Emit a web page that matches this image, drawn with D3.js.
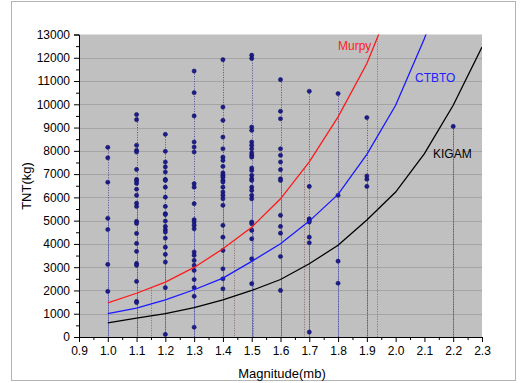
<!DOCTYPE html>
<html>
<head>
<meta charset="utf-8">
<script src="https://cdn.jsdelivr.net/npm/d3@7"></script>
<style>
  body { margin: 0; background: #fff; }
  svg { display: block; font-family: "Liberation Sans", Arial, sans-serif; }
</style>
</head>
<body>
<svg id="chart" width="526" height="383"></svg>
<script>
const magnitudes = [1.0, 1.1, 1.2, 1.3, 1.4, 1.5, 1.6, 1.7, 1.8, 1.9, 2.2];
const tntValues = [
  [8150, 7700, 6650, 5100, 4620, 3120, 1960],
  [9560, 9340, 8240, 8020, 7950, 7200, 6770, 6700, 6600, 6350, 6090, 5750, 5610, 4970, 4880, 4450, 4020, 3680, 3160, 3080, 2390, 1530, 1480],
  [8710, 7980, 7520, 7310, 7090, 6770, 6730, 6440, 6010, 5610, 5300, 5260, 4980, 4750, 4610, 4510, 4250, 3860, 3550, 3220, 2120, 110],
  [11430, 10500, 9500, 8380, 8160, 7950, 6590, 6440, 5730, 5040, 4940, 4800, 4650, 3650, 3510, 3290, 3080, 2860, 2470, 2120, 1750, 420],
  [11920, 9880, 9310, 8590, 8090, 7730, 7590, 7330, 7050, 6950, 6870, 6730, 6660, 6440, 6230, 6090, 5940, 5660, 4800, 4290, 3720, 2930, 2500, 2070],
  [12110, 11970, 9020, 8880, 8380, 8240, 8090, 7910, 7810, 7730, 7260, 7160, 6950, 6800, 6730, 6440, 6300, 6090, 5940, 4940, 4870, 4580, 4220, 3360, 2290],
  [11060, 9700, 9380, 8090, 7810, 7520, 7190, 6800, 6730, 5230, 4750, 4460, 3460, 2000],
  [10560, 6470, 5080, 5010, 4940, 4290, 4050, 210],
  [10460, 6090, 3260, 2310],
  [9430, 6920, 6780, 6470],
  [9050]
];

// empirical curves
const curveMag = [1.0, 1.1, 1.2, 1.3, 1.4, 1.5, 1.6, 1.7, 1.8, 1.9, 2.0, 2.1, 2.2, 2.3];
const murpy = [1470, 1880, 2360, 2990, 3790, 4720, 5940, 7530, 9460, 11750, 14800, 18600, 23400, 29500];
const ctbto = [1000, 1240, 1600, 2030, 2530, 3250, 4010, 4980, 6130, 7850, 9960, 12830, 16200, 20400];
const kigam = [610, 810, 1000, 1260, 1600, 2000, 2470, 3150, 3940, 5030, 6230, 7880, 9960, 12460];

// extra drop lines under the Murpy curve
const murpyDropMag = [1.15, 1.44, 1.505, 1.68, 1.8, 1.935];

const xTicks = [0.9, 1.0, 1.1, 1.2, 1.3, 1.4, 1.5, 1.6, 1.7, 1.8, 1.9, 2.0, 2.1, 2.2, 2.3];
const yTicks = [0, 1000, 2000, 3000, 4000, 5000, 6000, 7000, 8000, 9000, 10000, 11000, 12000, 13000];

const pLeft = 79, pRight = 482, pTop = 34.5, pBottom = 337;

const svg = d3.select('#chart');

// outer frame
svg.append('rect')
  .attr('x', 11.5).attr('y', 1.5)
  .attr('width', 504).attr('height', 379)
  .attr('fill', '#fff')
  .attr('stroke', '#b4b4b4')
  .attr('stroke-width', 1);

const x = d3.scaleLinear().domain([0.9, 2.3]).range([pLeft, pRight]);
const y = d3.scaleLinear().domain([0, 13000]).range([pBottom, pTop]);

svg.append('defs').append('clipPath').attr('id', 'plotclip')
  .append('rect')
  .attr('x', pLeft).attr('y', pTop)
  .attr('width', pRight - pLeft).attr('height', pBottom - pTop);

// plot background
svg.append('rect')
  .attr('x', pLeft).attr('y', pTop)
  .attr('width', pRight - pLeft).attr('height', pBottom - pTop)
  .attr('fill', '#c0c0c0');

// horizontal grid
svg.append('g')
  .selectAll('line')
  .data(yTicks.filter(d => d > 0 && d < 13000))
  .enter().append('line')
  .attr('x1', pLeft).attr('x2', pRight)
  .attr('y1', d => Math.round(y(d)) + 0.5)
  .attr('y2', d => Math.round(y(d)) + 0.5)
  .attr('stroke', '#a4a4a4')
  .attr('stroke-width', 1);

const plot = svg.append('g').attr('clip-path', 'url(#plotclip)');

// drop lines from the Murpy curve
const murpyAt = d3.scaleLinear().domain(curveMag).range(murpy);
plot.append('g')
  .selectAll('line')
  .data(murpyDropMag)
  .enter().append('line')
  .attr('x1', d => Math.round(x(d)) + 0.5)
  .attr('x2', d => Math.round(x(d)) + 0.5)
  .attr('y1', d => y(murpyAt(d)))
  .attr('y2', pBottom)
  .attr('stroke', '#8a6a6a')
  .attr('stroke-width', 1)
  .attr('stroke-dasharray', '1,1.5');

// column lines + drop lines for the events
const columns = plot.append('g')
  .selectAll('g')
  .data(magnitudes.map((m, i) => ({ mag: m, values: tntValues[i] })))
  .enter().append('g');

columns.append('line')
  .attr('x1', d => Math.round(x(d.mag)) + 0.5)
  .attr('x2', d => Math.round(x(d.mag)) + 0.5)
  .attr('y1', d => y(d3.median(d.values)))
  .attr('y2', pBottom)
  .attr('stroke', '#8c8cc0')
  .attr('stroke-width', 1);

columns.append('line')
  .attr('x1', d => Math.round(x(d.mag)) + 0.5)
  .attr('x2', d => Math.round(x(d.mag)) + 0.5)
  .attr('y1', d => y(d3.max(d.values)))
  .attr('y2', pBottom)
  .attr('stroke', '#505098')
  .attr('stroke-width', 1)
  .attr('stroke-dasharray', '1,1.5');

// curves
const line = d3.line()
  .x(d => x(d[0]))
  .y(d => y(d[1]));

[[murpy, '#ff1a1a'], [ctbto, '#1a1aff'], [kigam, '#000000']].forEach(([vals, color]) => {
  plot.append('path')
    .datum(curveMag.map((m, i) => [m, vals[i]]))
    .attr('d', line)
    .attr('fill', 'none')
    .attr('stroke', color)
    .attr('stroke-width', 1.3);
});

// event points
columns.selectAll('circle')
  .data(d => d.values.map(v => [d.mag, v]))
  .enter().append('circle')
  .attr('cx', d => x(d[0]))
  .attr('cy', d => y(d[1]))
  .attr('r', 2.1)
  .attr('fill', '#1c1c8c')
  .attr('stroke', '#0a0a5a')
  .attr('stroke-width', 0.5);

// curve labels
svg.append('text').attr('x', 338).attr('y', 50)
  .attr('font-size', 12).attr('fill', '#ff2020').text('Murpy');
svg.append('text').attr('x', 415).attr('y', 82)
  .attr('font-size', 12).attr('fill', '#2020ff').text('CTBTO');
svg.append('text').attr('x', 433).attr('y', 158)
  .attr('font-size', 12).attr('fill', '#000').text('KIGAM');

// axes
const xMinor = d3.range(0, 29).map(i => 0.9 + i * 0.05).filter((d, i) => i % 2 === 1);
const yMinor = d3.range(0, 26).map(i => 500 + i * 1000).filter(d => d < 13000);

svg.append('g')
  .attr('transform', 'translate(0,' + pBottom + ')')
  .call(d3.axisBottom(x).tickValues(xTicks).tickFormat(d3.format('.1f')).tickSize(5).tickPadding(4));
svg.append('g')
  .attr('transform', 'translate(0,' + pBottom + ')')
  .call(d3.axisBottom(x).tickValues(xMinor).tickFormat('').tickSize(3))
  .select('.domain').remove();

svg.append('g')
  .attr('transform', 'translate(' + pLeft + ',0)')
  .call(d3.axisLeft(y).tickValues(yTicks).tickFormat(d3.format('d')).tickSize(5).tickPadding(4));
svg.append('g')
  .attr('transform', 'translate(' + pLeft + ',0)')
  .call(d3.axisLeft(y).tickValues(yMinor).tickFormat('').tickSize(3))
  .select('.domain').remove();

svg.selectAll('.tick text')
  .attr('font-size', 12)
  .attr('font-family', '"Liberation Sans", Arial, sans-serif')
  .attr('fill', '#000');
svg.selectAll('.domain').attr('stroke', '#000');
svg.selectAll('.tick line').attr('stroke', '#000');

// axis titles
svg.append('text')
  .attr('x', 282).attr('y', 378)
  .attr('text-anchor', 'middle')
  .attr('font-size', 13)
  .text('Magnitude(mb)');

svg.append('text')
  .attr('transform', 'translate(31,186) rotate(-90)')
  .attr('text-anchor', 'middle')
  .attr('font-size', 13)
  .text('TNT(kg)');
</script>
</body>
</html>
